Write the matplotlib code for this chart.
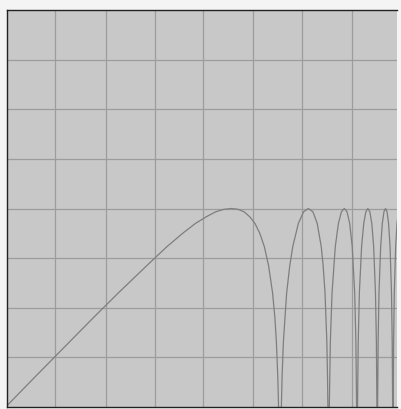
import matplotlib
matplotlib.use('Agg')
import matplotlib.pyplot as plt
from matplotlib.ticker import NullLocator

# frequency (relative to first notch) and level in dB
freq_lobe0 = [0.0203, 0.03, 0.05, 0.07, 0.1, 0.15, 0.2, 0.25, 0.3, 0.35, 0.4, 0.45, 0.5,
              0.55, 0.6, 0.65, 0.7, 0.75, 0.8, 0.85, 0.9, 0.93, 0.95, 0.97, 0.98, 0.99, 1.0]
db_lobe0 = [-23.9, -20.5, -16.1, -13.2, -10.2, -6.9, -4.6, -3.0, -1.8, -1.0, -0.4, -0.1, 0.0,
            -0.1, -0.4, -1.0, -1.8, -3.0, -4.6, -6.9, -10.2, -13.2, -16.1, -20.5, -24.0, -30.0, -60.0]

freq_lobe1 = [1.01, 1.02, 1.03, 1.05, 1.1, 1.15, 1.2, 1.3, 1.4, 1.5, 1.6, 1.7, 1.8, 1.85,
              1.9, 1.95, 1.97, 1.98, 1.99, 2.0]
db_lobe1 = [-30.0, -24.0, -20.5, -16.1, -10.2, -6.9, -4.6, -1.8, -0.4, 0.0, -0.4, -1.8, -4.6, -6.9,
            -10.2, -16.1, -20.5, -24.0, -30.0, -60.0]

freq_lobe2 = [2.02, 2.05, 2.1, 2.2, 2.3, 2.4, 2.5, 2.6, 2.7, 2.8, 2.9, 2.95, 2.98, 3.0]
db_lobe2 = [-24.0, -16.1, -10.2, -4.6, -1.8, -0.4, 0.0, -0.4, -1.8, -4.6, -10.2, -16.1, -24.0, -60.0]

freq_lobe3 = [3.02, 3.05, 3.1, 3.2, 3.3, 3.4, 3.5, 3.6, 3.7, 3.8, 3.9, 3.95, 3.98, 4.0]
db_lobe3 = [-24.0, -16.1, -10.2, -4.6, -1.8, -0.4, 0.0, -0.4, -1.8, -4.6, -10.2, -16.1, -24.0, -60.0]

freq_lobe4 = [4.02, 4.05, 4.1, 4.2, 4.3, 4.4, 4.5, 4.6, 4.7, 4.8, 4.9, 4.95, 4.98, 5.0]
db_lobe4 = [-24.0, -16.1, -10.2, -4.6, -1.8, -0.4, 0.0, -0.4, -1.8, -4.6, -10.2, -16.1, -24.0, -60.0]

freq_lobe5 = [5.02, 5.05, 5.1, 5.2, 5.3, 5.4]
db_lobe5 = [-24.0, -16.1, -10.2, -4.6, -1.8, -0.6]

# grid positions
x_grid = [0.0408, 0.0833, 0.168, 0.332, 0.681, 1.362, 2.78]
y_grid = [-18, -12, -6, 0, 6, 12, 18]

freq = freq_lobe0 + freq_lobe1 + freq_lobe2 + freq_lobe3 + freq_lobe4 + freq_lobe5
level = db_lobe0 + db_lobe1 + db_lobe2 + db_lobe3 + db_lobe4 + db_lobe5

fig = plt.figure(figsize=(4.01, 4.09), dpi=100, facecolor='#f4f4f4')
ax = fig.add_axes([6.5 / 401, 2 / 409, 390.5 / 401, 397 / 409])
ax.set_facecolor('#c8c8c8')

ax.plot(freq, level, color='#7e7e7e', linewidth=0.9)

ax.set_xscale('log')
ax.set_xlim(0.0203, 5.30)
ax.set_ylim(-24, 24)
ax.set_xticks(x_grid)
ax.set_yticks(y_grid)
ax.xaxis.set_minor_locator(NullLocator())
ax.set_xticklabels([])
ax.set_yticklabels([])
ax.tick_params(length=0)
ax.grid(True, color='#9c9c9c', linewidth=0.9)
ax.set_axisbelow(True)

for side in ['left', 'top', 'bottom']:
    ax.spines[side].set_color('#222222')
    ax.spines[side].set_linewidth(1.0)
ax.spines['right'].set_visible(False)

plt.savefig('out.png', dpi=100, facecolor=fig.get_facecolor())
